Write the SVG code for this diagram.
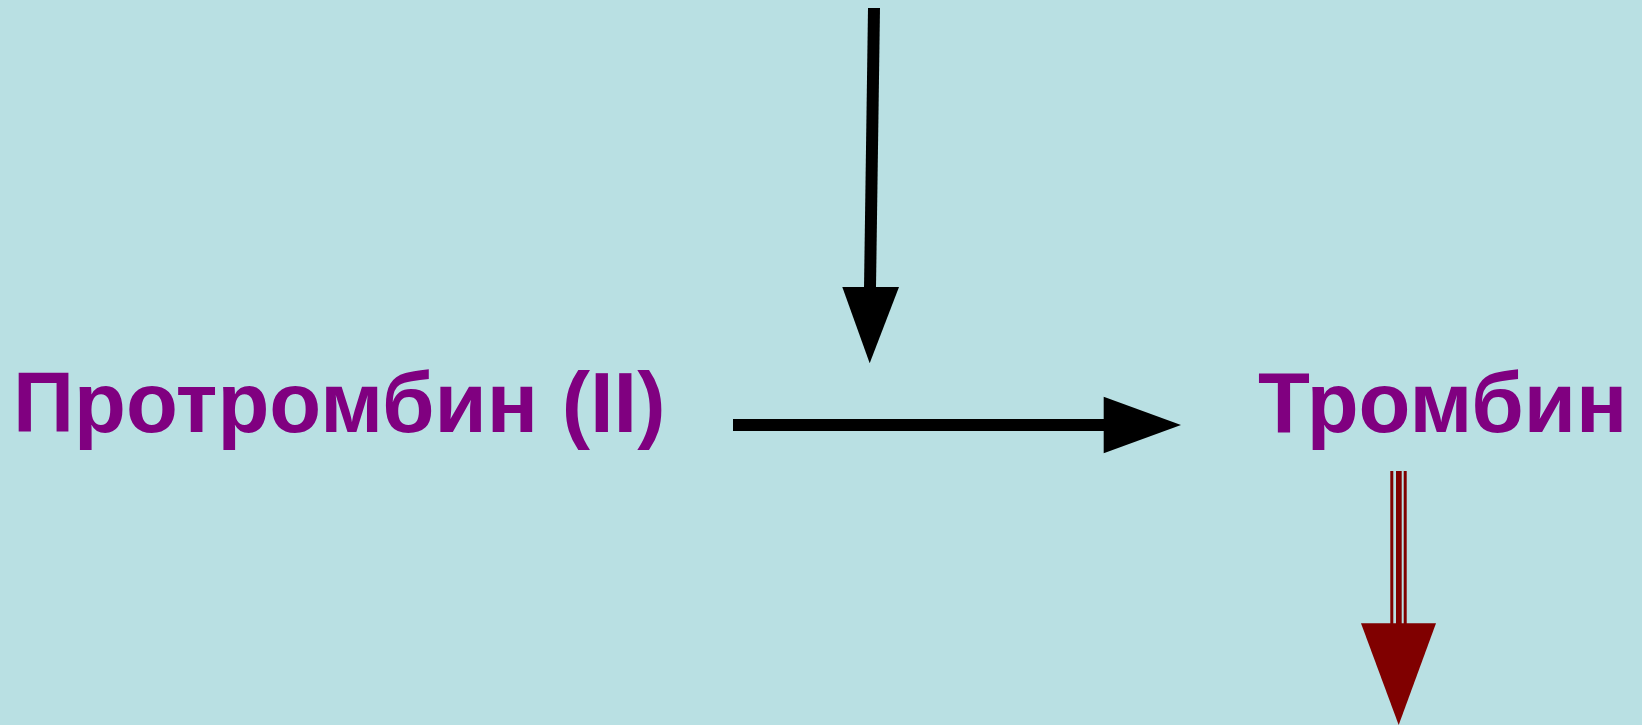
<svg xmlns="http://www.w3.org/2000/svg" width="1642" height="725" viewBox="0 0 1642 725">
<style>
.lbl{font-family:"Liberation Sans",Arial,sans-serif;font-weight:bold;font-size:85px;fill:#800080}
.blk{stroke:#000;stroke-width:12;fill:none}
</style>
<rect width="1642" height="725" fill="#B9E0E3"/>
<g id="node-prothrombin"><text class="lbl" x="13" y="431.7">Протромбин (II)</text></g>
<g id="node-thrombin"><text class="lbl" x="1258" y="431.7">Тромбин</text></g>
<g id="connectors">
<line class="blk" x1="874" y1="8" x2="870" y2="288"/>
<polygon points="842.3,287 899,287 869.7,363.3" fill="#000"/>
<line class="blk" x1="733" y1="425" x2="1105" y2="425"/>
<polygon points="1103.7,396.7 1103.7,453.3 1181,425" fill="#000"/>
<rect x="1390.3" y="471" width="3" height="153" fill="#800000"/>
<rect x="1396" y="471" width="5.7" height="153" fill="#800000"/>
<rect x="1403.7" y="471" width="3" height="153" fill="#800000"/>
<polygon points="1361,623.3 1436,623.3 1398.7,725" fill="#800000"/>
</g>
</svg>
